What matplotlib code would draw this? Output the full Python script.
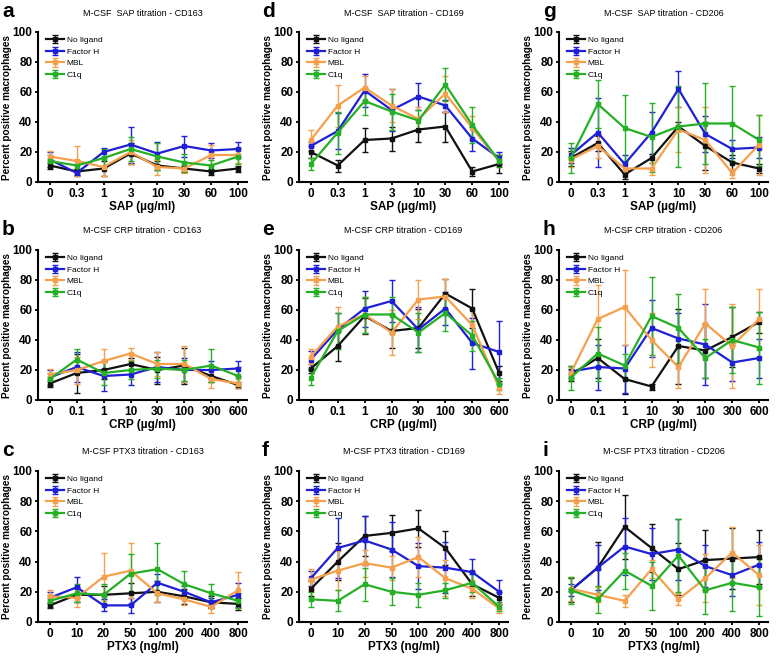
import matplotlib
matplotlib.use("Agg")
import matplotlib.pyplot as plt
import numpy as np

plt.rcParams["font.family"] = ["Liberation Sans", "DejaVu Sans"]

series_names = ["No ligand", "Factor H", "MBL", "C1q"]
colors = ["#111111", "#1f1fd6", "#f5a04c", "#25b025"]

sap_ticks = ["0", "0.3", "1", "3", "10", "30", "60", "100"]
crp_ticks = ["0", "0.1", "1", "10", "30", "100", "300", "600"]
ptx3_ticks = ["0", "10", "20", "50", "100", "200", "400", "800"]

# means per series (No ligand, Factor H, MBL, C1q) and error bar half-lengths
sap_cd163_mean = [[11, 7, 9, 19, 11, 9, 7, 9],
                  [15, 6, 20, 25, 19, 24, 21, 22],
                  [17, 14, 10, 20, 10, 9, 18, 18],
                  [14, 11, 16, 22, 17, 13, 11, 17]]
sap_cd163_err = [[2, 2, 5, 7, 3, 2, 2, 2],
                 [5, 2, 3, 12, 8, 7, 5, 5],
                 [4, 10, 6, 8, 5, 3, 7, 5],
                 [4, 4, 6, 8, 9, 6, 4, 5]]

sap_cd169_mean = [[20, 11, 28, 29, 35, 37, 7, 12],
                  [24, 34, 61, 48, 57, 51, 29, 16],
                  [28, 51, 63, 51, 42, 59, 36, 14],
                  [12, 33, 54, 47, 41, 65, 38, 14]]
sap_cd169_err = [[4, 4, 8, 8, 8, 10, 3, 6],
                 [3, 12, 11, 14, 9, 4, 8, 4],
                 [7, 14, 8, 11, 8, 12, 8, 4],
                 [4, 14, 9, 12, 7, 11, 12, 4]]

sap_cd206_mean = [[16, 26, 5, 16, 37, 24, 13, 9],
                  [18, 33, 12, 33, 62, 32, 22, 23],
                  [15, 24, 9, 9, 35, 28, 6, 25],
                  [16, 52, 36, 30, 37, 39, 39, 28]]
sap_cd206_err = [[5, 5, 3, 3, 3, 16, 5, 3],
                 [5, 23, 6, 14, 12, 12, 6, 7],
                 [5, 8, 3, 4, 15, 22, 3, 20],
                 [10, 16, 22, 23, 27, 27, 25, 17]]

crp_cd163_mean = [[11, 18, 20, 24, 20, 23, 16, 10],
                  [15, 22, 16, 17, 22, 20, 20, 21],
                  [17, 20, 26, 31, 24, 24, 14, 11],
                  [14, 27, 18, 20, 21, 20, 23, 16]]
crp_cd163_err = [[2, 13, 6, 4, 9, 12, 4, 2],
                 [5, 10, 10, 7, 10, 8, 6, 5],
                 [4, 9, 8, 4, 8, 12, 6, 3],
                 [4, 7, 8, 6, 6, 7, 11, 6]]

crp_cd169_mean = [[21, 36, 56, 46, 48, 71, 61, 18],
                  [27, 47, 61, 66, 47, 61, 38, 32],
                  [29, 49, 57, 45, 67, 69, 50, 8],
                  [15, 46, 57, 57, 45, 58, 43, 11]]
crp_cd169_err = [[3, 10, 12, 11, 13, 10, 13, 5],
                 [6, 11, 12, 14, 15, 11, 17, 21],
                 [5, 13, 12, 15, 13, 12, 11, 4],
                 [5, 12, 12, 12, 13, 12, 10, 4]]

crp_cd206_mean = [[17, 28, 14, 9, 36, 33, 42, 52],
                  [19, 22, 21, 48, 41, 37, 25, 28],
                  [18, 54, 62, 40, 22, 51, 36, 54],
                  [15, 31, 23, 56, 48, 28, 40, 35]]
crp_cd206_err = [[4, 13, 10, 2, 25, 18, 20, 7],
                 [4, 15, 16, 19, 17, 27, 12, 13],
                 [4, 23, 25, 18, 14, 23, 28, 20],
                 [8, 18, 8, 26, 23, 13, 22, 24]]

ptx3_cd163_mean = [[11, 18, 18, 19, 20, 17, 13, 12],
                   [16, 23, 11, 11, 26, 20, 13, 18],
                   [17, 16, 30, 34, 19, 15, 10, 21],
                   [14, 19, 18, 32, 35, 25, 19, 14]]
ptx3_cd163_err = [[2, 5, 6, 7, 7, 5, 4, 4],
                  [4, 7, 4, 5, 6, 4, 3, 8],
                  [4, 6, 16, 18, 6, 4, 4, 12],
                  [4, 6, 7, 13, 17, 9, 6, 5]]

ptx3_cd169_mean = [[22, 40, 57, 59, 62, 49, 25, 16],
                   [29, 49, 54, 48, 37, 36, 33, 20],
                   [28, 34, 39, 36, 43, 29, 22, 9],
                   [15, 14, 25, 20, 18, 21, 26, 10]]
ptx3_cd169_err = [[5, 12, 13, 12, 12, 11, 8, 4],
                  [5, 20, 16, 18, 15, 17, 9, 8],
                  [7, 13, 9, 8, 13, 12, 6, 3],
                  [5, 7, 11, 9, 8, 5, 6, 3]]

ptx3_cd206_mean = [[21, 36, 63, 49, 35, 41, 42, 43],
                   [21, 36, 50, 45, 48, 37, 31, 38],
                   [22, 18, 14, 35, 15, 29, 46, 31],
                   [21, 15, 34, 24, 44, 21, 26, 23]]
ptx3_cd206_err = [[8, 17, 21, 16, 17, 20, 20, 18],
                  [4, 15, 19, 17, 20, 14, 14, 15],
                  [8, 5, 4, 6, 4, 16, 17, 20],
                  [9, 9, 12, 16, 24, 16, 19, 19]]

W, H = 778, 656
fig = plt.figure(figsize=(W / 100, H / 100), dpi=100)

panels = [
    ("a", "M-CSF  SAP titration - CD163", "SAP (µg/ml)", sap_ticks, sap_cd163_mean, sap_cd163_err, 0, 0),
    ("d", "M-CSF  SAP titration - CD169", "SAP (µg/ml)", sap_ticks, sap_cd169_mean, sap_cd169_err, 0, 1),
    ("g", "M-CSF  SAP titration - CD206", "SAP (µg/ml)", sap_ticks, sap_cd206_mean, sap_cd206_err, 0, 2),
    ("b", "M-CSF CRP titration - CD163", "CRP (µg/ml)", crp_ticks, crp_cd163_mean, crp_cd163_err, 1, 0),
    ("e", "M-CSF CRP titration - CD169", "CRP (µg/ml)", crp_ticks, crp_cd169_mean, crp_cd169_err, 1, 1),
    ("h", "M-CSF CRP titration - CD206", "CRP (µg/ml)", crp_ticks, crp_cd206_mean, crp_cd206_err, 1, 2),
    ("c", "M-CSF PTX3 titration - CD163", "PTX3 (ng/ml)", ptx3_ticks, ptx3_cd163_mean, ptx3_cd163_err, 2, 0),
    ("f", "M-CSF PTX3 titration - CD169", "PTX3 (ng/ml)", ptx3_ticks, ptx3_cd169_mean, ptx3_cd169_err, 2, 1),
    ("i", "M-CSF PTX3 titration - CD206", "PTX3 (ng/ml)", ptx3_ticks, ptx3_cd206_mean, ptx3_cd206_err, 2, 2),
]

col_left = [38, 299, 559]
col_letter = [2, 262, 543]
row_top = [32, 250, 471]
row_bottom = [182, 400, 622]
ax_w = 209

for letter, title, xlabel, ticks, means, errs, r, c in panels:
    left, top, bottom = col_left[c], row_top[r], row_bottom[r]
    ax = fig.add_axes([left / W, 1 - bottom / H, ax_w / W, (bottom - top) / H])
    x = np.arange(len(ticks))
    for name, col, m, e in zip(series_names, colors, means, errs):
        ax.errorbar(x, m, yerr=e, color=col, lw=1.6, marker="s", ms=3.2,
                    elinewidth=1.0, capsize=2.2, capthick=1.0, label=name)
    ax.set_xlim(-0.44, 7.33)
    ax.set_ylim(0, 100)
    ax.set_yticks([0, 20, 40, 60, 80, 100])
    ax.set_xticks(x)
    ax.set_xticklabels(ticks)
    for s in ["top", "right"]:
        ax.spines[s].set_visible(False)
    for s in ["left", "bottom"]:
        ax.spines[s].set_linewidth(1.5)
    ax.tick_params(width=1.3, length=2.5, labelsize=8.5, pad=1.5)
    for lab in ax.get_xticklabels() + ax.get_yticklabels():
        lab.set_fontweight("bold")
    ax.set_xlabel(xlabel, fontsize=8.5, fontweight="bold", labelpad=1)
    ax.set_ylabel("Percent positive macrophages", fontsize=7.2, fontweight="bold")
    ax.yaxis.set_label_coords(-26 / ax_w, 0.5)
    ax.legend(loc="upper left", bbox_to_anchor=(0.01, 1.01), frameon=False, fontsize=6,
              handlelength=2.2, handletextpad=0.3, labelspacing=0.45, borderpad=0.2)
    fig.text((left + ax_w / 2) / W, 1 - (top - 19) / H, title, ha="center", va="center", fontsize=6.5)
    fig.text(col_letter[c] / W, 1 - (top - 30) / H, letter, ha="left", va="top",
             fontsize=15, fontweight="bold")

fig.savefig("out.png", dpi=100)
